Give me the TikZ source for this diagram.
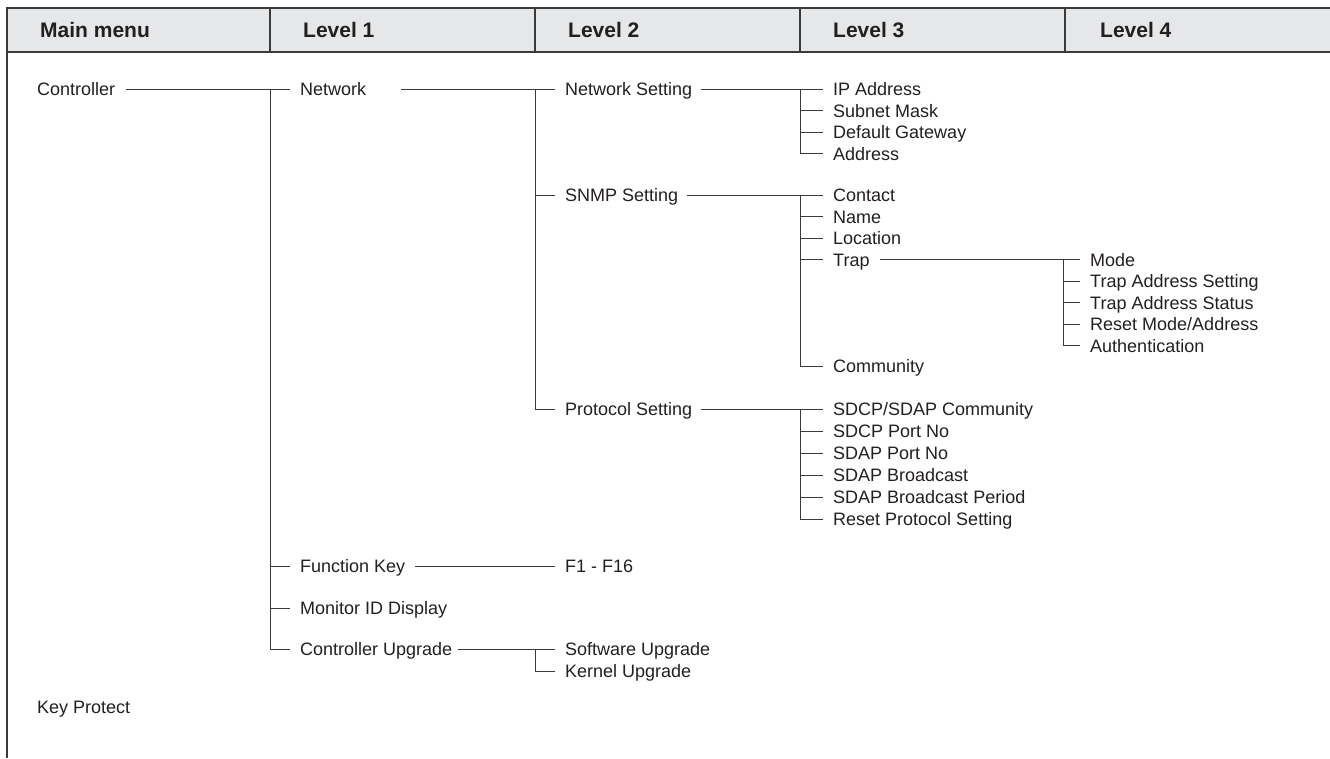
\documentclass[tikz,border=0pt]{standalone}
\usepackage{fontspec}
\setmainfont{Liberation Sans}
\definecolor{hdrfill}{HTML}{E6E7E8}
\definecolor{ink}{HTML}{231F20}
\definecolor{rule}{HTML}{3A3A3A}
\begin{document}
\begin{tikzpicture}[x=1pt,y=-1pt,
  item/.style={anchor=west,inner sep=0pt,text=ink,text height=13pt,text depth=0pt,font=\fontsize{18}{22}\selectfont},
  head/.style={anchor=west,inner sep=0pt,text=ink,text height=15pt,text depth=0pt,font=\fontsize{21}{25}\selectfont\bfseries},
  conn/.style={draw=rule,line width=1pt},
  frame/.style={draw=rule,line width=1.1pt}]
\useasboundingbox (0,0) rectangle (1330,758);
% header
\fill[hdrfill] (7,8) rectangle (1330,52);
\draw[frame] (1330,8) -- (7,8) -- (7,758);
\draw[frame] (7,52) -- (1330,52);
\foreach \xx in {270,535,800,1065} \draw[frame] (\xx,8) -- (\xx,52);
\node[head] (h0) at (40,29.5) {Main menu};
\node[head] (h1) at (303,29.5) {Level 1};
\node[head] (h2) at (568,29.5) {Level 2};
\node[head] (h3) at (833,29.5) {Level 3};
\node[head] (h4) at (1100,29.5) {Level 4};
% trunk positions
\coordinate (t1) at (270,0);
\coordinate (t2) at (535,0);
\coordinate (t3) at (800,0);
\coordinate (t4) at (1063,0);
% main menu
\node[item] (ctrl) at (37,89) {Controller};
\node[item] (kp) at (37,707) {Key Protect};
% level 1
\node[item] (net) at (300,89) {Network};
\node[item] (fk) at (300,566) {Function Key};
\node[item] (mid) at (300,608) {Monitor ID Display};
\node[item] (cu) at (300,649) {Controller Upgrade};
% level 2
\node[item] (ns) at (565,89) {Network Setting};
\node[item] (snmp) at (565,195) {SNMP Setting};
\node[item] (ps) at (565,409) {Protocol Setting};
\node[item] (f1) at (565,566) {F1 - F16};
\node[item] (su) at (565,649) {Software Upgrade};
\node[item] (ku) at (565,671) {Kernel Upgrade};
% level 3
\node[item] (ip) at (833,89) {IP Address};
\node[item] (sm) at (833,110.5) {Subnet Mask};
\node[item] (dg) at (833,132) {Default Gateway};
\node[item] (ad) at (833,153.5) {Address};
\node[item] (con) at (833,195) {Contact};
\node[item] (nm) at (833,216.5) {Name};
\node[item] (loc) at (833,238) {Location};
\node[item] (trap) at (833,259.5) {Trap};
\node[item] (com) at (833,366) {Community};
\node[item] (sc) at (833,409) {SDCP/SDAP Community};
\node[item] (scp) at (833,431) {SDCP Port No};
\node[item] (sap) at (833,453) {SDAP Port No};
\node[item] (sab) at (833,475) {SDAP Broadcast};
\node[item] (sabp) at (833,497) {SDAP Broadcast Period};
\node[item] (rps) at (833,519) {Reset Protocol Setting};
% level 4
\node[item] (mode) at (1090,259.5) {Mode};
\node[item] (tas) at (1090,281) {Trap Address Setting};
\node[item] (tast) at (1090,302.5) {Trap Address Status};
\node[item] (rma) at (1090,324) {Reset Mode/Address};
\node[item] (auth) at (1090,345.5) {Authentication};
% connectors: main menu -> level 1
\draw[conn] ([xshift=11pt]ctrl.east) -- ([xshift=-10pt]net.west);
\draw[conn] (net.west -| t1) -- (cu.west -| t1) -- ([xshift=-10pt]cu.west);
\draw[conn] (fk.west -| t1) -- ([xshift=-10pt]fk.west);
\draw[conn] (mid.west -| t1) -- ([xshift=-10pt]mid.west);
% network -> level 2
\draw[conn] ([xshift=35pt]net.east) -- ([xshift=-10pt]ns.west);
\draw[conn] (ns.west -| t2) -- (ps.west -| t2) -- ([xshift=-10pt]ps.west);
\draw[conn] (snmp.west -| t2) -- ([xshift=-10pt]snmp.west);
% function key
\draw[conn] ([xshift=10pt]fk.east) -- ([xshift=-10pt]f1.west);
% controller upgrade
\draw[conn] ([xshift=6pt]cu.east) -- ([xshift=-10pt]su.west);
\draw[conn] (su.west -| t2) -- (ku.west -| t2) -- ([xshift=-10pt]ku.west);
% network setting
\draw[conn] ([xshift=9pt]ns.east) -- ([xshift=-10pt]ip.west);
\draw[conn] (ip.west -| t3) -- (ad.west -| t3) -- ([xshift=-10pt]ad.west);
\draw[conn] (sm.west -| t3) -- ([xshift=-10pt]sm.west);
\draw[conn] (dg.west -| t3) -- ([xshift=-10pt]dg.west);
% snmp setting
\draw[conn] ([xshift=9pt]snmp.east) -- ([xshift=-10pt]con.west);
\draw[conn] (con.west -| t3) -- (com.west -| t3) -- ([xshift=-10pt]com.west);
\draw[conn] (nm.west -| t3) -- ([xshift=-10pt]nm.west);
\draw[conn] (loc.west -| t3) -- ([xshift=-10pt]loc.west);
\draw[conn] (trap.west -| t3) -- ([xshift=-10pt]trap.west);
% trap
\draw[conn] ([xshift=10pt]trap.east) -- ([xshift=-10pt]mode.west);
\draw[conn] (mode.west -| t4) -- (auth.west -| t4) -- ([xshift=-10pt]auth.west);
\draw[conn] (tas.west -| t4) -- ([xshift=-10pt]tas.west);
\draw[conn] (tast.west -| t4) -- ([xshift=-10pt]tast.west);
\draw[conn] (rma.west -| t4) -- ([xshift=-10pt]rma.west);
% protocol setting
\draw[conn] ([xshift=9pt]ps.east) -- ([xshift=-10pt]sc.west);
\draw[conn] (sc.west -| t3) -- (rps.west -| t3) -- ([xshift=-10pt]rps.west);
\draw[conn] (scp.west -| t3) -- ([xshift=-10pt]scp.west);
\draw[conn] (sap.west -| t3) -- ([xshift=-10pt]sap.west);
\draw[conn] (sab.west -| t3) -- ([xshift=-10pt]sab.west);
\draw[conn] (sabp.west -| t3) -- ([xshift=-10pt]sabp.west);
\end{tikzpicture}
\end{document}
